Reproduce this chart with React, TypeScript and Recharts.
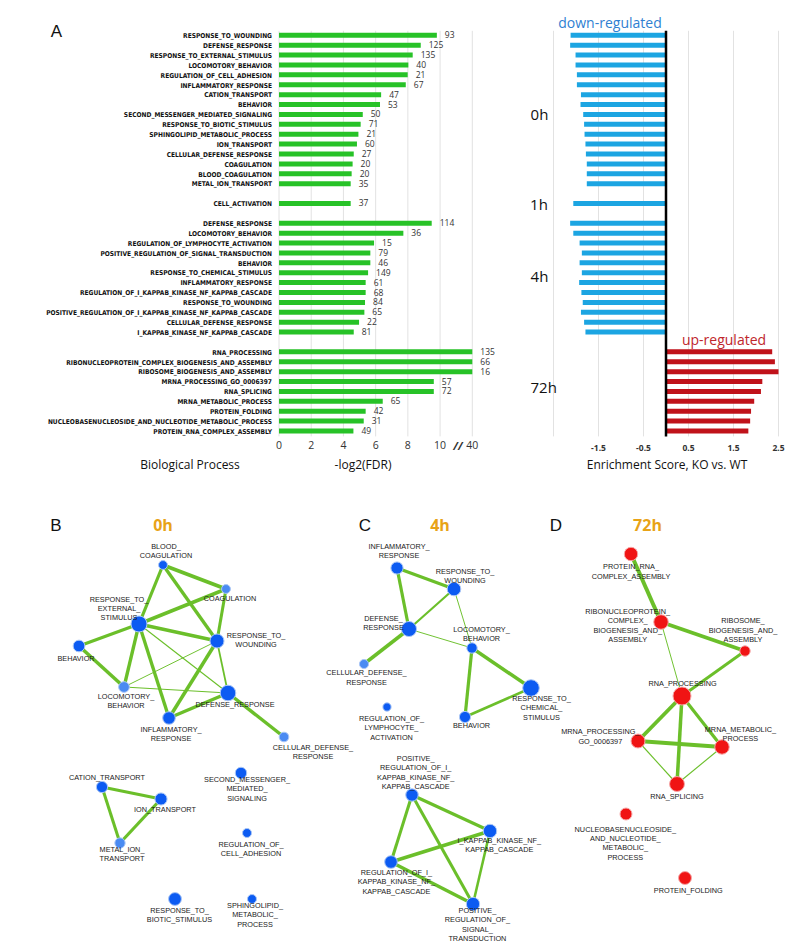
import React from "react";
import {
  BarChart,
  Bar,
  XAxis,
  YAxis,
  CartesianGrid,
  LabelList,
  Cell,
  ReferenceLine,
  ScatterChart,
  Scatter,
} from "recharts";

// ---- panel A data ----
const TERMS_0H = [
  "RESPONSE_TO_WOUNDING",
  "DEFENSE_RESPONSE",
  "RESPONSE_TO_EXTERNAL_STIMULUS",
  "LOCOMOTORY_BEHAVIOR",
  "REGULATION_OF_CELL_ADHESION",
  "INFLAMMATORY_RESPONSE",
  "CATION_TRANSPORT",
  "BEHAVIOR",
  "SECOND_MESSENGER_MEDIATED_SIGNALING",
  "RESPONSE_TO_BIOTIC_STIMULUS",
  "SPHINGOLIPID_METABOLIC_PROCESS",
  "ION_TRANSPORT",
  "CELLULAR_DEFENSE_RESPONSE",
  "COAGULATION",
  "BLOOD_COAGULATION",
  "METAL_ION_TRANSPORT",
];
const FDR_0H = [9.8, 8.8, 8.3, 8.03, 7.99, 7.87, 6.34, 6.27, 5.2, 5.07, 4.93, 4.84, 4.64, 4.57, 4.51, 4.45];
const GENES_0H = [93, 125, 135, 40, 21, 67, 47, 53, 50, 71, 21, 60, 27, 20, 20, 35];
const ES_0H = [-2.12, -2.13, -2.01, -2.01, -1.98, -1.98, -1.89, -1.9, -1.84, -1.82, -1.81, -1.79, -1.78, -1.76, -1.76, -1.76];

const TERMS_1H = ["CELL_ACTIVATION"];
const FDR_1H = [4.45];
const GENES_1H = [37];
const ES_1H = [-2.06];

const TERMS_4H = [
  "DEFENSE_RESPONSE",
  "LOCOMOTORY_BEHAVIOR",
  "REGULATION_OF_LYMPHOCYTE_ACTIVATION",
  "POSITIVE_REGULATION_OF_SIGNAL_TRANSDUCTION",
  "BEHAVIOR",
  "RESPONSE_TO_CHEMICAL_STIMULUS",
  "INFLAMMATORY_RESPONSE",
  "REGULATION_OF_I_KAPPAB_KINASE_NF_KAPPAB_CASCADE",
  "RESPONSE_TO_WOUNDING",
  "POSITIVE_REGULATION_OF_I_KAPPAB_KINASE_NF_KAPPAB_CASCADE",
  "CELLULAR_DEFENSE_RESPONSE",
  "I_KAPPAB_KINASE_NF_KAPPAB_CASCADE",
];
const FDR_4H = [9.48, 7.72, 5.9, 5.67, 5.67, 5.53, 5.38, 5.38, 5.34, 5.3, 4.97, 4.64];
const GENES_4H = [114, 36, 15, 79, 46, 149, 61, 68, 84, 65, 22, 81];
const ES_4H = [-2.13, -2.06, -1.92, -1.87, -1.92, -1.87, -1.93, -1.88, -1.85, -1.89, -1.82, -1.79];

const TERMS_72H = [
  "RNA_PROCESSING",
  "RIBONUCLEOPROTEIN_COMPLEX_BIOGENESIS_AND_ASSEMBLY",
  "RIBOSOME_BIOGENESIS_AND_ASSEMBLY",
  "MRNA_PROCESSING_GO_0006397",
  "RNA_SPLICING",
  "MRNA_METABOLIC_PROCESS",
  "PROTEIN_FOLDING",
  "NUCLEOBASENUCLEOSIDE_AND_NUCLEOTIDE_METABOLIC_PROCESS",
  "PROTEIN_RNA_COMPLEX_ASSEMBLY",
];
const FDR_72H = [40, 40, 40, 9.61, 9.61, 6.44, 5.38, 5.26, 4.62];
const GENES_72H = [135, 66, 16, 57, 72, 65, 42, 31, 49];
const ES_72H = [2.36, 2.42, 2.5, 2.14, 2.11, 1.96, 1.89, 1.87, 1.83];

const FDR_TICKS = [0, 2, 4, 6, 8, 10, 12];
const ES_TICKS = [-1.5, -0.5, 0.5, 1.5, 2.5];

// ---- network data (B: 0h, C: 4h, D: 72h) ----
type Node = { id: string; x: number; y: number; genes: number };

const NODES_0H: Node[] = [
  { id: "BLOOD_COAGULATION", x: 163, y: 565, genes: 20 },
  { id: "COAGULATION", x: 226, y: 589, genes: 20 },
  { id: "RESPONSE_TO_EXTERNAL_STIMULUS", x: 139, y: 624, genes: 135 },
  { id: "RESPONSE_TO_WOUNDING", x: 217, y: 641, genes: 93 },
  { id: "BEHAVIOR", x: 79, y: 646, genes: 53 },
  { id: "LOCOMOTORY_BEHAVIOR", x: 124, y: 687, genes: 40 },
  { id: "DEFENSE_RESPONSE", x: 228, y: 693, genes: 125 },
  { id: "INFLAMMATORY_RESPONSE", x: 169, y: 718, genes: 67 },
  { id: "CELLULAR_DEFENSE_RESPONSE", x: 284, y: 737, genes: 27 },
  { id: "CATION_TRANSPORT", x: 102, y: 787, genes: 47 },
  { id: "ION_TRANSPORT", x: 161, y: 799, genes: 60 },
  { id: "METAL_ION_TRANSPORT", x: 120, y: 843, genes: 35 },
  { id: "SECOND_MESSENGER_MEDIATED_SIGNALING", x: 241, y: 773, genes: 50 },
  { id: "REGULATION_OF_CELL_ADHESION", x: 247, y: 833, genes: 21 },
  { id: "RESPONSE_TO_BIOTIC_STIMULUS", x: 175, y: 899, genes: 71 },
  { id: "SPHINGOLIPID_METABOLIC_PROCESS", x: 252, y: 899, genes: 21 },
];
const EDGES_0H = [
  [0, 1, 1.0], [0, 2, 0.75], [0, 3, 0.8], [1, 2, 0.85], [1, 3, 0.7], [2, 3, 0.85],
  [2, 4, 0.75], [2, 5, 0.8], [2, 7, 0.8], [2, 6, 0.1], [4, 5, 0.85], [5, 3, 0.05],
  [5, 6, 0.1], [3, 7, 0.85], [3, 6, 0.3], [7, 6, 0.85], [6, 8, 0.8],
  [9, 10, 0.7], [9, 11, 0.7], [10, 11, 0.75],
];
const LABELS_0H = [
  "BLOOD_|COAGULATION", "COAGULATION", "RESPONSE_TO_|EXTERNAL_|STIMULUS", "RESPONSE_TO_|WOUNDING",
  "BEHAVIOR", "LOCOMOTORY_|BEHAVIOR", "DEFENSE_RESPONSE", "INFLAMMATORY_|RESPONSE",
  "CELLULAR_DEFENSE_|RESPONSE", "CATION_TRANSPORT", "ION_TRANSPORT", "METAL_ION_|TRANSPORT",
  "SECOND_MESSENGER_|MEDIATED_|SIGNALING", "REGULATION_OF_|CELL_ADHESION", "RESPONSE_TO_|BIOTIC_STIMULUS",
  "SPHINGOLIPID_|METABOLIC_|PROCESS",
];
const LABEL_POS_0H = [
  [3, -19], [4, 9], [-20, -25], [39, -6], [-3, 12], [2, 9.5], [7, 11], [2, 11],
  [29, 10.5], [5, -9.5], [4, 10], [2, 6], [6, 6.5], [4, 11], [4.5, 11], [3, 6.5],
];

const NODES_4H: Node[] = [
  { id: "INFLAMMATORY_RESPONSE", x: 397, y: 568, genes: 61 },
  { id: "RESPONSE_TO_WOUNDING", x: 454, y: 589, genes: 84 },
  { id: "DEFENSE_RESPONSE", x: 409, y: 629, genes: 114 },
  { id: "LOCOMOTORY_BEHAVIOR", x: 472, y: 648, genes: 36 },
  { id: "CELLULAR_DEFENSE_RESPONSE", x: 364, y: 664, genes: 22 },
  { id: "RESPONSE_TO_CHEMICAL_STIMULUS", x: 531, y: 688, genes: 149 },
  { id: "REGULATION_OF_LYMPHOCYTE_ACTIVATION", x: 387, y: 707, genes: 15 },
  { id: "BEHAVIOR", x: 465, y: 717, genes: 46 },
  { id: "POSITIVE_REGULATION_OF_I_KAPPAB_KINASE_NF_KAPPAB_CASCADE", x: 412, y: 795, genes: 65 },
  { id: "I_KAPPAB_KINASE_NF_KAPPAB_CASCADE", x: 490, y: 831, genes: 81 },
  { id: "REGULATION_OF_I_KAPPAB_KINASE_NF_KAPPAB_CASCADE", x: 391, y: 862, genes: 68 },
  { id: "POSITIVE_REGULATION_OF_SIGNAL_TRANSDUCTION", x: 473, y: 904, genes: 79 },
];
const EDGES_4H = [
  [0, 1, 0.75], [0, 2, 0.75], [1, 2, 0.4], [1, 3, 0.05], [2, 3, 0.05], [2, 4, 0.85],
  [3, 5, 0.85], [3, 7, 0.75], [7, 5, 0.55],
  [8, 9, 0.75], [8, 10, 0.7], [8, 11, 0.7], [9, 10, 0.85], [9, 11, 0.55], [10, 11, 0.85],
];
const LABELS_4H = [
  "INFLAMMATORY_|RESPONSE", "RESPONSE_TO_|WOUNDING", "DEFENSE_|RESPONSE", "LOCOMOTORY_|BEHAVIOR",
  "CELLULAR_DEFENSE_|RESPONSE", "RESPONSE_TO_|CHEMICAL_|STIMULUS", "REGULATION_OF_|LYMPHOCYTE_|ACTIVATION",
  "BEHAVIOR", "POSITIVE_|REGULATION_OF_I_|KAPPAB_KINASE_NF_|KAPPAB_CASCADE",
  "I_KAPPAB_KINASE_NF_|KAPPAB_CASCADE", "REGULATION_OF_I_|KAPPAB_KINASE_NF_|KAPPAB_CASCADE",
  "POSITIVE_|REGULATION_OF_|SIGNAL_|TRANSDUCTION",
];
const LABEL_POS_4H = [
  [2, -21.5], [11, -17.5], [-25.5, -11], [9.5, -19], [2.5, 8.7], [10.5, 10.5],
  [4.5, 11.3], [6.5, 8.7], [3.7, -36.7], [9.3, 9.3], [5.4, 10.4], [4.4, 6.5],
];

const NODES_72H: Node[] = [
  { id: "PROTEIN_RNA_COMPLEX_ASSEMBLY", x: 631, y: 554, genes: 49 },
  { id: "RIBONUCLEOPROTEIN_COMPLEX_BIOGENESIS_AND_ASSEMBLY", x: 661, y: 622, genes: 66 },
  { id: "RIBOSOME_BIOGENESIS_AND_ASSEMBLY", x: 745, y: 651, genes: 16 },
  { id: "RNA_PROCESSING", x: 682, y: 696, genes: 135 },
  { id: "MRNA_PROCESSING_GO_0006397", x: 638, y: 741, genes: 57 },
  { id: "MRNA_METABOLIC_PROCESS", x: 722, y: 747, genes: 65 },
  { id: "RNA_SPLICING", x: 677, y: 784, genes: 72 },
  { id: "NUCLEOBASENUCLEOSIDE_AND_NUCLEOTIDE_METABOLIC_PROCESS", x: 626, y: 814, genes: 31 },
  { id: "PROTEIN_FOLDING", x: 685, y: 878, genes: 42 },
];
const EDGES_72H = [
  [0, 1, 1.0], [1, 2, 0.95], [1, 3, 0.05], [2, 3, 0.65], [3, 4, 0.95], [3, 5, 0.75],
  [3, 6, 0.85], [4, 5, 0.95], [4, 6, 0.1], [5, 6, 0.1],
];
const LABELS_72H = [
  "PROTEIN_RNA_|COMPLEX_ASSEMBLY", "RIBONUCLEOPROTEIN_|COMPLEX_|BIOGENESIS_AND_|ASSEMBLY",
  "RIBOSOME_|BIOGENESIS_AND_|ASSEMBLY", "RNA_PROCESSING", "MRNA_PROCESSING_|GO_0006397",
  "MRNA_METABOLIC_|PROCESS", "RNA_SPLICING", "NUCLEOBASENUCLEOSIDE_|AND_NUCLEOTIDE_|METABOLIC_|PROCESS",
  "PROTEIN_FOLDING",
];
const LABEL_POS_72H = [
  [0, 12.7], [-33.3, -10.6], [-2, -30.3], [0.6, -12.7], [-37.7, -9.3], [18.4, -17.7],
  [0, 12.4], [-0.7, 15], [3.3, 12],
];

// ---- build rows ----
const brk = (v: number) => (v <= 10 ? v : 10 + (v - 10) / 15);

const GROUPS = [
  { t: "0h", terms: TERMS_0H, fdr: FDR_0H, genes: GENES_0H, es: ES_0H },
  { t: "1h", terms: TERMS_1H, fdr: FDR_1H, genes: GENES_1H, es: ES_1H },
  { t: "4h", terms: TERMS_4H, fdr: FDR_4H, genes: GENES_4H, es: ES_4H },
  { t: "72h", terms: TERMS_72H, fdr: FDR_72H, genes: GENES_72H, es: ES_72H },
];

const rows: any[] = [];
GROUPS.forEach((g, gi) => {
  if (gi > 0) rows.push({ id: `gap${gi}` });
  g.terms.forEach((t, i) =>
    rows.push({ id: `${g.t}|${t}`, fdr: brk(g.fdr[i]), genes: g.genes[i], es: g.es[i] })
  );
});

const GREEN = "#27c227";
const EDGE = "#6bbf2a";
const SANS = "'Open Sans', sans-serif";

const CatTick = (p: any) => {
  const v = String(p.payload.value);
  const name = v.includes("|") ? v.split("|")[1] : "";
  return (
    <text x={p.x} y={p.y} dy="0.35em" textAnchor="end" fontSize={6.6} fontWeight={700}
      fontFamily="'DejaVu Sans Condensed', sans-serif" fill="#111">
      {name}
    </text>
  );
};

const FdrTick = (p: any) => (
  <text x={p.x} y={p.y} dominantBaseline="central" textAnchor="middle" fontSize={10.5} fontFamily={SANS} fill="#333">
    {p.payload.value === 12 ? "40" : p.payload.value}
  </text>
);

const EsTick = (p: any) => (
  <text x={p.x} y={p.y} dominantBaseline="central" textAnchor="middle" fontSize={8.5} fontWeight={700} fontFamily={SANS} fill="#333">
    {p.payload.value}
  </text>
);

const Txt = ({ x, y, size, children, color = "#111", weight = 400, family = SANS }: any) => (
  <div
    style={{
      position: "absolute", left: x, top: y, transform: "translate(-50%, -50%)",
      fontSize: size, color, fontWeight: weight, fontFamily: family, whiteSpace: "nowrap", lineHeight: 1,
    }}
  >
    {children}
  </div>
);

const PANELS = [
  { key: "b", nodes: NODES_0H, edges: EDGES_0H, labels: LABELS_0H, pos: LABEL_POS_0H, base: 2.2, red: false, light: [1, 5, 8, 11] },
  { key: "c", nodes: NODES_4H, edges: EDGES_4H, labels: LABELS_4H, pos: LABEL_POS_4H, base: 2.2, red: false, light: [4] },
  { key: "d", nodes: NODES_72H, edges: EDGES_72H, labels: LABELS_72H, pos: LABEL_POS_72H, base: 3.2, red: true, light: [] as number[] },
];

const nodeShape = (panel: any) => (p: any) => {
  const n = p.payload;
  const r = panel.base + 0.5 * Math.sqrt(n.genes);
  const fill = panel.red ? "#f01414" : panel.light.includes(n.i) ? "#4a8bf2" : "#0c5bf2";
  const halo = panel.red ? "#f6a5a5" : "#a9c6f6";
  return <circle cx={p.cx} cy={p.cy} r={r} fill={fill} stroke={halo} strokeWidth={1} />;
};

const labelShape = (panel: any) => (p: any) => {
  const i = p.payload.i;
  const [dx, dy] = panel.pos[i];
  return (
    <g>
      {panel.labels[i].split("|").map((s: string, k: number) => (
        <text key={k} x={p.cx + dx} y={p.cy + dy + k * 9.4} textAnchor="middle" dominantBaseline="central"
          fontSize={7.3} fontFamily="'Liberation Sans', Arial, sans-serif" fill="#1a1a1a">
          {s}
        </text>
      ))}
    </g>
  );
};

const noShape = () => <g />;

export default function App() {
  return (
    <div style={{ position: "absolute", left: 0, top: 0, width: 794, height: 944, background: "#fff", overflow: "hidden" }}>
      {/* A: -log2(FDR) bars */}
      <div style={{ position: "absolute", left: 0, top: 0 }}>
        <BarChart width={510} height={480} data={rows} layout="vertical"
          margin={{ top: 30.8, right: 37.7, bottom: 13.6, left: 49 }} barSize={5}>
          <CartesianGrid horizontal={false} stroke="#e2e2e2" />
          <XAxis type="number" domain={[0, 12]} ticks={FDR_TICKS} axisLine={false} tickLine={false}
            tickSize={0} tickMargin={8.6} height={30} tick={<FdrTick />} interval={0} />
          <YAxis type="category" dataKey="id" width={230} axisLine={false} tickLine={false}
            tickSize={0} tickMargin={7} tick={<CatTick />} interval={0} />
          <Bar dataKey="fdr" fill={GREEN} isAnimationActive={false}>
            <LabelList dataKey="genes" position="right" offset={8}
              style={{ fontSize: 8.5, fill: "#333", fontFamily: SANS }} />
          </Bar>
        </BarChart>
      </div>

      {/* A: enrichment score bars */}
      <div style={{ position: "absolute", left: 500, top: 0 }}>
        <BarChart width={300} height={480} data={rows} layout="vertical"
          margin={{ top: 30.8, right: 21.5, bottom: 13.6, left: 53.5 }} barSize={5}>
          <CartesianGrid horizontal={false} stroke="#e2e2e2" />
          <XAxis type="number" domain={[-2.5, 2.5]} ticks={ES_TICKS} axisLine={false} tickLine={false}
            tickSize={0} tickMargin={10.6} height={30} tick={<EsTick />} interval={0} />
          <YAxis type="category" dataKey="id" hide />
          <Bar dataKey="es" isAnimationActive={false}>
            {rows.map((r, i) => (
              <Cell key={i} fill={r.es > 0 ? "#c0121a" : "#1ca5e2"} />
            ))}
          </Bar>
          <ReferenceLine x={0} stroke="#000" strokeWidth={2.5} />
        </BarChart>
      </div>

      {/* B, C, D networks */}
      <div style={{ position: "absolute", left: 0, top: 500 }}>
        <ScatterChart width={794} height={444} margin={{ top: 0, right: 0, bottom: 0, left: 0 }}>
          <XAxis type="number" dataKey="x" domain={[0, 794]} hide />
          <YAxis type="number" dataKey="y" domain={[500, 944]} reversed hide />
          {PANELS.flatMap((pn) =>
            pn.edges.map(([a, b, w], k) => (
              <Scatter key={`${pn.key}e${k}`} data={[pn.nodes[a], pn.nodes[b]]}
                line={{ stroke: EDGE, strokeWidth: 0.8 + 3.2 * w }} shape={noShape}
                isAnimationActive={false} legendType="none" />
            ))
          )}
          {PANELS.map((pn) => (
            <Scatter key={`${pn.key}n`} data={pn.nodes.map((n, i) => ({ ...n, i }))}
              shape={nodeShape(pn)} isAnimationActive={false} legendType="none" />
          ))}
          {PANELS.map((pn) => (
            <Scatter key={`${pn.key}l`} data={pn.nodes.map((n, i) => ({ ...n, i }))}
              shape={labelShape(pn)} isAnimationActive={false} legendType="none" />
          ))}
        </ScatterChart>
      </div>

      {/* text */}
      <Txt x={56.5} y={31} size={17} family="'Liberation Sans', Arial, sans-serif">A</Txt>
      <Txt x={610} y={23} size={14} color="#2f7fd2">down-regulated</Txt>
      <Txt x={724} y={340} size={14} color="#c0262c">up-regulated</Txt>
      <Txt x={539.5} y={114} size={15}>0h</Txt>
      <Txt x={539} y={204} size={15}>1h</Txt>
      <Txt x={539.5} y={276} size={15}>4h</Txt>
      <Txt x={543.7} y={387} size={15}>72h</Txt>
      <Txt x={458} y={445} size={11} weight={700} color="#333"><i>//</i></Txt>
      <Txt x={190} y={465} size={12}>Biological Process</Txt>
      <Txt x={363} y={465} size={12}>-log2(FDR)</Txt>
      <Txt x={667} y={465} size={12}>Enrichment Score, KO vs. WT</Txt>

      <Txt x={56} y={525} size={17} family="'Liberation Sans', Arial, sans-serif">B</Txt>
      <Txt x={163} y={525} size={16} weight={700} color="#e8a317">0h</Txt>
      <Txt x={365} y={525} size={17} family="'Liberation Sans', Arial, sans-serif">C</Txt>
      <Txt x={440} y={525} size={16} weight={700} color="#e8a317">4h</Txt>
      <Txt x={556} y={525} size={17} family="'Liberation Sans', Arial, sans-serif">D</Txt>
      <Txt x={647.5} y={525} size={16} weight={700} color="#e8a317">72h</Txt>
    </div>
  );
}
